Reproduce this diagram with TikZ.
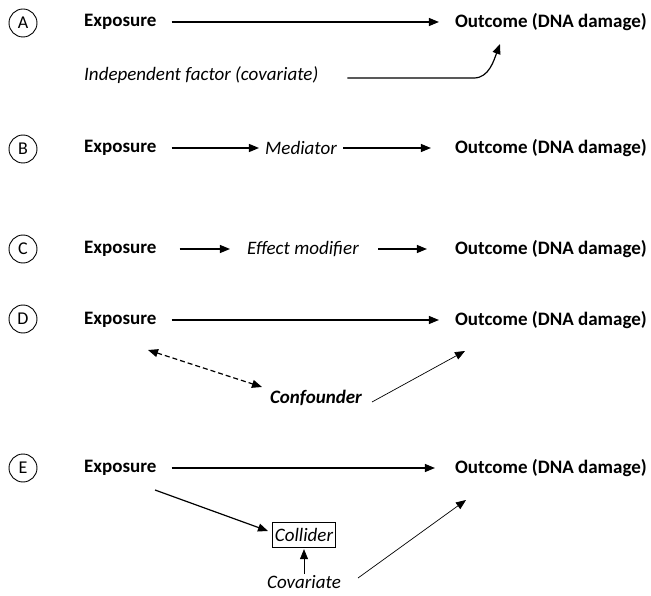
\documentclass[tikz,border=0pt]{standalone}
\usepackage{fontspec}
\setmainfont{Carlito}
\usetikzlibrary{arrows.meta}
\begin{document}
\begin{tikzpicture}[x=1pt,y=-1pt,
  txt/.style={inner sep=0pt,font=\fontsize{19}{22}\selectfont},
  bt/.style={txt,font=\fontsize{19}{22}\selectfont\bfseries},
  it/.style={txt,font=\fontsize{19}{22}\selectfont\itshape},
  bit/.style={txt,font=\fontsize{19}{22}\selectfont\bfseries\itshape},
  lab/.style={draw,circle,minimum size=28pt,inner sep=0pt,line width=0.9pt,font=\fontsize{18}{20}\selectfont},
  arr/.style={line width=1.2pt,-{Triangle[length=10pt,width=8pt]}},
  thin/.style={line width=0.7pt,-{Triangle[length=10pt,width=8pt]}},
  darr/.style={line width=1.2pt,dashed,dash pattern=on 5pt off 3pt,{Triangle[length=10pt,width=8pt]}-{Triangle[length=10pt,width=8pt]}}]
\useasboundingbox (0,0) rectangle (651,596);
% labels
\node[lab] (la) at (23,23) {A};
\node[lab] (lb) at (23,149) {B};
\node[lab] (lc) at (23,249) {C};
\node[lab] (ld) at (23,319) {D};
\node[lab] (le) at (23,468) {E};
% A
\node[bt,anchor=west] (expA) at (84,22) {Exposure};
\node[bt,anchor=east] (outA) at (647,22) {Outcome (DNA damage)};
\node[it,anchor=west] (indA) at (84,75) {Independent factor (covariate)};
\draw[arr] ([xshift=15pt]expA.east) -- ([xshift=-16pt]outA.west);
\coordinate (tipA) at (500,44);
\draw[arr] ([xshift=29pt,yshift=-3pt]indA.east) -- (474,78) .. controls (489,78) and (494,60) .. (tipA);
% B
\node[bt,anchor=west] (expB) at (84,148) {Exposure};
\node[it] (medB) at (301,148) {Mediator};
\node[bt,anchor=east] (outB) at (647,148) {Outcome (DNA damage)};
\draw[arr] ([xshift=15pt]expB.east) -- ([xshift=-6pt]medB.west);
\draw[arr] ([xshift=6pt]medB.east) -- ([xshift=-24pt]outB.west);
% C
\node[bt,anchor=west] (expC) at (84,249) {Exposure};
\node[it] (modC) at (303,249) {Effect modifier};
\node[bt,anchor=east] (outC) at (647,249) {Outcome (DNA damage)};
\draw[arr] ([xshift=23pt]expC.east) -- ([xshift=-17pt]modC.west);
\draw[arr] ([xshift=19pt]modC.east) -- ([xshift=-28pt]outC.west);
% D
\node[bt,anchor=west] (expD) at (84,320) {Exposure};
\node[bt,anchor=east] (outD) at (647,320) {Outcome (DNA damage)};
\node[bit] (conD) at (316,398) {Confounder};
\draw[arr] ([xshift=15pt]expD.east) -- ([xshift=-16pt]outD.west);
\coordinate (dS) at (148,350);
\coordinate (dE) at (262,387);
\draw[darr] (dS) -- (dE);
\coordinate (cD) at (372,402);
\coordinate (oD) at (465,351);
\draw[thin] (cD) -- (oD);
% E
\node[bt,anchor=west] (expE) at (84,468) {Exposure};
\node[bt,anchor=east] (outE) at (647,468) {Outcome (DNA damage)};
\node[it,draw,line width=1pt,inner xsep=2pt,inner ysep=6pt] (colE) at (304,535) {Collider};
\node[it] (covE) at (304,582) {Covariate};
\draw[arr] ([xshift=15pt]expE.east) -- ([xshift=-20pt]outE.west);
\coordinate (eS) at (155,490);
\coordinate (eT) at (268,531);
\draw[arr] (eS) -- (eT);
\draw[thin] ([yshift=1pt]covE.north) -- ([yshift=-1pt]colE.south);
\coordinate (cE) at (358,578);
\coordinate (oE) at (466,500);
\draw[thin] (cE) -- (oE);
\end{tikzpicture}
\end{document}
